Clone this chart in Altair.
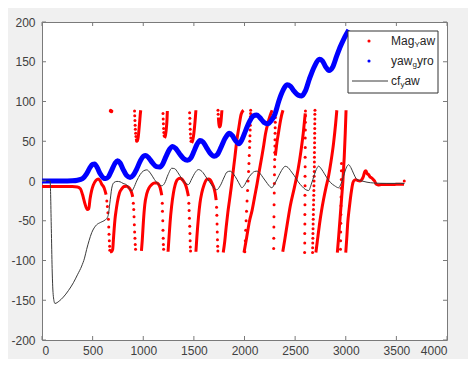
import altair as alt
import pandas as pd

# ---------------- data ----------------
x_ticks = [0, 500, 1000, 1500, 2000, 2500, 3000, 3500, 4000]
y_ticks = [-200, -150, -100, -50, 0, 50, 100, 150, 200]

# yaw_gyro (blue, dense dots -> drawn as a thick line)
gyro_pts = [(0, 0), (100, 0), (200, 0), (300, 0.3), (350, 1), (400, 3), (440, 9), (470, 16), (500, 21),
            (520, 21.5), (545, 17), (575, 9), (605, 4), (630, 3), (655, 5), (690, 14), (720, 22), (745, 25.5),
            (770, 23), (800, 15), (835, 7), (870, 4.5), (900, 7), (935, 15), (970, 25), (1000, 31), (1025, 32),
            (1055, 29), (1090, 23), (1130, 18), (1160, 17.5), (1190, 21), (1225, 31), (1260, 40), (1290, 43.5),
            (1320, 41), (1360, 34), (1400, 28), (1435, 26), (1470, 29), (1500, 37), (1530, 46), (1560, 51),
            (1590, 49), (1625, 42), (1660, 35), (1700, 31), (1730, 33), (1770, 43), (1810, 54), (1850, 60),
            (1880, 57), (1910, 51), (1945, 47), (1975, 52), (2010, 63), (2050, 75), (2090, 82), (2120, 83),
            (2150, 80), (2190, 74), (2230, 72), (2265, 76), (2300, 84), (2340, 101), (2380, 114), (2420, 121),
            (2455, 119), (2490, 113), (2530, 108), (2565, 107), (2600, 113), (2640, 128), (2690, 144),
            (2740, 153), (2770, 151), (2800, 144), (2835, 139), (2870, 143), (2910, 157), (2950, 170),
            (2990, 181), (3030, 190)]

# cf_yaw (black line)
cf_pts = [(0, 1), (60, 1), (80, 0), (92, -60), (100, -110), (112, -145), (128, -154), (170, -151), (211, -146),
          (260, -138), (310, -128), (350, -118), (392, -107), (420, -97), (441, -86), (465, -75), (491, -65),
          (515, -59), (540, -55), (580, -52), (623, -49), (645, -46), (656, -42), (670, -28), (689, -9),
          (710, -2), (740, -0.5), (771, -1), (800, -3), (837, -5), (870, -11), (886, -12.5), (905, -9),
          (935, 0), (969, 8), (1000, 12.5), (1035, 14), (1070, 10), (1110, 2), (1150, -4), (1183, -6),
          (1210, -3), (1245, 8), (1282, 16), (1310, 15.5), (1340, 11), (1380, 3), (1420, -3), (1446, -4.5),
          (1480, 3), (1515, 11), (1545, 14.4), (1580, 12), (1620, 5), (1670, -4), (1700, -9), (1726, -11),
          (1760, -6), (1800, 5), (1825, 11), (1858, 12.4), (1890, 9), (1925, 2), (1955, -5), (1974, -8.5),
          (1995, -6), (2030, 2), (2070, 9), (2100, 12), (2122, 12.4), (2150, 10), (2185, 4), (2225, -3),
          (2250, -7), (2270, -8.5), (2300, -3), (2340, 7), (2375, 15), (2402, 18.5), (2430, 17), (2455, 13),
          (2490, 7), (2530, -1), (2570, -7), (2600, -10.5), (2633, -12), (2660, -4), (2690, 8), (2715, 16),
          (2731, 18.7), (2760, 15), (2790, 9), (2814, 4), (2850, -2), (2890, -6), (2929, -8.5), (2955, -3),
          (2985, 9), (3010, 18), (3028, 20.5), (3050, 17), (3075, 10), (3110, 2), (3160, 0), (3210, -1.5),
          (3275, -2.5), (3400, -3), (3540, -3), (3580, -3.2)]

# Mag_Yaw (red): dense stretches of dots (drawn as thick line pieces)
mag_dense = [
    [(0, -7), (100, -7), (200, -7), (300, -7), (350, -7.5), (380, -10), (400, -17), (425, -29), (448, -36),
     (462, -35), (474, -23), (490, -12), (507, -5), (534, 1), (557, 2.5), (575, 0), (590, -4), (613, -8.5),
     (633, -17)],
    [(672, -89), (685, -89), (698, -86), (705, -74), (713, -60), (721, -48), (732, -37), (744, -27), (765, -15),
     (787, -10), (810, -7), (837, -6.5), (855, -8), (870, -10.5), (886, -15), (896, -20)],
    [(940, 50), (950, 55), (958, 65), (965, 75), (970, 83), (975, 89)],
    [(982, -88), (990, -75), (1002, -50), (1015, -30), (1035, -16), (1060, -8), (1084, -4.5), (1110, -2.5),
     (1134, -2.5), (1150, -4), (1167, -8.5), (1183, -18)],
    [(1210, 54), (1220, 58), (1228, 66), (1234, 76), (1238, 88)],
    [(1245, -89), (1255, -70), (1265, -52), (1280, -32), (1298, -15), (1315, -5), (1332, 1), (1350, 3),
     (1364, 3.5), (1380, 2.5), (1397, 0), (1415, -4), (1430, -10), (1446, -19)],
    [(1478, 48), (1490, 52), (1500, 60), (1508, 70), (1515, 80), (1520, 89)],
    [(1520, -89), (1530, -70), (1545, -46), (1560, -28), (1578, -15), (1600, -5), (1628, 2), (1645, 2.5),
     (1661, 1.5), (1680, -3), (1694, -7), (1710, -15), (1720, -24)],
    [(1742, 80), (1747, 72), (1753, 68), (1760, 69), (1767, 74), (1772, 81), (1777, 89)],
    [(1790, -90), (1805, -76), (1819, -58), (1835, -40), (1852, -24), (1870, -7), (1885, 9), (1905, 30),
     (1924, 51), (1945, 68), (1967, 84), (1990, 89)],
    [(1995, -90), (2020, -72), (2050, -50), (2075, -37), (2100, -20), (2125, -3), (2141, 9), (2170, 30),
     (2190, 45), (2207, 59), (2230, 72), (2255, 83), (2273, 89)],
    [(2305, 32), (2320, 48), (2335, 60), (2350, 72), (2365, 82), (2380, 89)],
    [(2378, -89), (2400, -72), (2425, -52), (2451, -32), (2493, -8), (2530, 15), (2558, 38), (2580, 60),
     (2600, 85)],
    [(2705, -90), (2720, -75), (2740, -55), (2760, -38), (2781, -23), (2805, -8), (2830, 6), (2855, 25),
     (2880, 48), (2900, 72), (2912, 89)],
    [(2917, -90), (2930, -70), (2945, -45), (2960, -20), (2972, 0), (2985, 30), (2995, 60), (3003, 89)],
    [(3000, -90), (3010, -72), (3020, -52), (3033, -36), (3045, -23), (3058, -11), (3071, -2), (3085, 1),
     (3100, 1.5), (3120, 0.5), (3140, 0), (3160, 2), (3175, 6), (3190, 12.5), (3200, 13), (3212, 9),
     (3225, 8), (3240, 5), (3255, 4), (3270, 2), (3285, 0), (3300, -4), (3320, -5), (3354, -4.5),
     (3400, -4.5), (3450, -4.5), (3500, -4.2), (3540, -4), (3576, -4.2)],
]

# Mag_Yaw (red): sparse dots (fast jumps)
mag_sparse = [
    (640, -25), (646, -32), (651, -40), (656, -48), (659, -58), (662, -67), (665, -75), (668, -82), (670, -87),
    (674, 88), (678, 89), (682, 88), (686, 87), (690, 88),
    (902, -28), (906, -36), (909, -45), (912, -55), (915, -64), (918, -72), (921, -80), (924, -86),
    (914, 88), (916, 82), (918, 76), (920, 70), (922, 65), (925, 60), (928, 56), (932, 52), (936, 50),
    (1188, -28), (1190, -38), (1193, -50), (1195, -62), (1197, -72), (1199, -80), (1201, -86),
    (1195, 85), (1197, 78), (1199, 72), (1201, 66), (1203, 61), (1206, 57),
    (1450, -28), (1453, -37), (1456, -47), (1459, -57), (1461, -66), (1463, -75), (1465, -83), (1467, -88),
    (1458, 86), (1460, 79), (1462, 72), (1464, 65), (1466, 59), (1469, 54), (1472, 50),
    (1724, -33), (1727, -43), (1729, -54), (1731, -64), (1733, -74), (1735, -82), (1737, -88),
    (1738, 89), (1740, 84),
    (2003, -89), (2008, -75), (2012, -62), (2016, -50), (2020, -38), (2025, -25), (2030, -12), (2035, 0),
    (2040, 12), (2044, 22), (2047, 32), (2050, 42), (2052, 50), (2054, 57), (2056, 64), (2057, 70),
    (2058, 76), (2059, 81), (2060, 85), (2061, 89),
    (2288, -85), (2289, -72), (2290, -58), (2291, -45), (2292, -30), (2294, -15), (2295, -3), (2296, 8),
    (2297, 18), (2298, 27), (2299, 36), (2300, 44), (2301, 52), (2302, 60), (2303, 67), (2304, 74),
    (2305, 80), (2306, 86), (2307, 89),
    (2594, -90), (2595, -78), (2595, -66), (2596, -54), (2596, -42), (2597, -30), (2597, -18), (2598, -6),
    (2598, 6), (2599, 18), (2599, 30), (2600, 42), (2600, 54), (2601, 64), (2601, 74), (2602, 82), (2602, 88),
    (2672, -90), (2673, -84), (2674, -78), (2675, -72), (2676, -66), (2677, -60), (2678, -54), (2679, -48),
    (2680, -42), (2681, -36), (2682, -30), (2683, -24), (2684, -18), (2685, -12), (2686, -6), (2687, 0),
    (2688, 6), (2689, 12), (2690, 18), (2690, 24), (2691, 30), (2691, 36), (2692, 42), (2692, 48),
    (2693, 54), (2693, 60), (2694, 66), (2694, 72), (2695, 78), (2695, 84), (2696, 89),
    (2948, -86), (2949, -75), (2950, -64), (2951, -53), (2952, -42), (2953, -31), (2954, -20), (2955, -9),
    (2956, 2), (2957, 13), (2958, 22),
    (3578, 0),
]

legend_main = ["Mag", "yaw", "cf"]
legend_sub = ["Y", "g", "y"]
legend_tail = ["aw", "yro", "aw"]

# ---------------- build tables ----------------
rows = []
for i, seg in enumerate(mag_dense):
    for j, (x, y) in enumerate(seg):
        rows.append({"seg": i, "ord": j, "x": x, "y": y})
mag_line_df = pd.DataFrame(rows)
mag_dot_df = pd.DataFrame(mag_sparse, columns=["x", "y"])
gyro_df = pd.DataFrame(gyro_pts, columns=["x", "y"])
gyro_df["ord"] = range(len(gyro_df))
cf_df = pd.DataFrame(cf_pts, columns=["x", "y"])
cf_df["ord"] = range(len(cf_df))
xt_df = pd.DataFrame({"x": x_ticks})
yt_df = pd.DataFrame({"y": y_ticks})
one = pd.DataFrame({"k": [0]})

W, H = 405, 318
FRAME = "#7a7a7a"
LBL = "#404040"
FONT = "Liberation Sans"
RED = "#ff0000"
BLUE = "#0000ff"

xs = alt.Scale(domain=[0, 4000], nice=False, zero=False)
ys = alt.Scale(domain=[-200, 200], nice=False, zero=False)

x_axis = alt.Axis(values=x_ticks, labelExpr="'' + datum.value", ticks=False, domain=False, grid=False,
                  labelPadding=5, title=None, labelFontSize=12, labelColor=LBL, labelFont=FONT)
y_axis = alt.Axis(values=y_ticks, labelExpr="'' + datum.value", ticks=False, domain=False, grid=False,
                  labelPadding=7, title=None, labelFontSize=12, labelColor=LBL, labelFont=FONT)

X = alt.X("x:Q", scale=xs, axis=x_axis)
Y = alt.Y("y:Q", scale=ys, axis=y_axis)

mag_lines = alt.Chart(mag_line_df).mark_line(color=RED, strokeWidth=3.0, interpolate="monotone", clip=True).encode(
    x=X, y=Y, detail="seg:N", order="ord:Q")
mag_dots = alt.Chart(mag_dot_df).mark_circle(color=RED, size=9, opacity=1, clip=True).encode(x=X, y=Y)
gyro_line = alt.Chart(gyro_df).mark_line(color=BLUE, strokeWidth=5, interpolate="monotone", clip=True).encode(
    x=X, y=Y, order="ord:Q")
cf_line = alt.Chart(cf_df).mark_line(color="#3a3a3a", strokeWidth=1, interpolate="monotone", clip=True).encode(
    x=X, y=Y, order="ord:Q")

tk = 4
xt_bot = alt.Chart(xt_df).mark_rule(color=FRAME, strokeWidth=1).encode(x=X, y=alt.value(H), y2=alt.value(H - tk))
xt_top = alt.Chart(xt_df).mark_rule(color=FRAME, strokeWidth=1).encode(x=X, y=alt.value(0), y2=alt.value(tk))
yt_left = alt.Chart(yt_df).mark_rule(color=FRAME, strokeWidth=1).encode(y=Y, x=alt.value(0), x2=alt.value(tk))
yt_right = alt.Chart(yt_df).mark_rule(color=FRAME, strokeWidth=1).encode(y=Y, x=alt.value(W), x2=alt.value(W - tk))

# legend box (manual, to allow subscripts as in the original)
lx0, lx1, ly0, ly1 = 306, 396, 9, 71
leg_box = alt.Chart(one).mark_rect(fill="white", stroke="#333333", strokeWidth=1).encode(
    x=alt.value(lx0), x2=alt.value(lx1), y=alt.value(ly0), y2=alt.value(ly1))
row_y = [19, 39, 59]
leg_red = alt.Chart(one).mark_circle(color=RED, size=10, opacity=1).encode(x=alt.value(327), y=alt.value(row_y[0]))
leg_blue = alt.Chart(one).mark_circle(color=BLUE, size=10, opacity=1).encode(x=alt.value(327), y=alt.value(row_y[1]))
leg_black = alt.Chart(one).mark_rule(color="#3a3a3a", strokeWidth=1).encode(
    x=alt.value(310), x2=alt.value(346), y=alt.value(row_y[2]))

main_w = [23.4, 21.4, 9.4]   # pixel widths of the main text pieces at 12px
sub_w = [5.4, 4.5, 4.0]      # pixel widths of the subscripts at 8px
texts = []
tx = 349
for i in range(3):
    texts.append(alt.Chart(one).mark_text(align="left", baseline="middle", fontSize=12, font=FONT, color="#262626").encode(
        x=alt.value(tx), y=alt.value(row_y[i]), text=alt.value(legend_main[i])))
    texts.append(alt.Chart(one).mark_text(align="left", baseline="middle", fontSize=8, font=FONT, color="#262626").encode(
        x=alt.value(tx + main_w[i]), y=alt.value(row_y[i] + 4), text=alt.value(legend_sub[i])))
    texts.append(alt.Chart(one).mark_text(align="left", baseline="middle", fontSize=12, font=FONT, color="#262626").encode(
        x=alt.value(tx + main_w[i] + sub_w[i]), y=alt.value(row_y[i]), text=alt.value(legend_tail[i])))

chart = alt.layer(
    mag_lines, mag_dots, gyro_line, cf_line,
    xt_bot, xt_top, yt_left, yt_right,
    leg_box, leg_red, leg_blue, leg_black, *texts,
).properties(
    width=W, height=H,
    autosize=alt.AutoSizeParams(type="none"),
    padding={"left": 34, "top": 14, "right": 21, "bottom": 19},
    background="#f0f0f0",
).configure_view(fill="white", stroke=FRAME, strokeWidth=1)

chart.save("out.html", embed_options={"renderer": "svg", "actions": False})
